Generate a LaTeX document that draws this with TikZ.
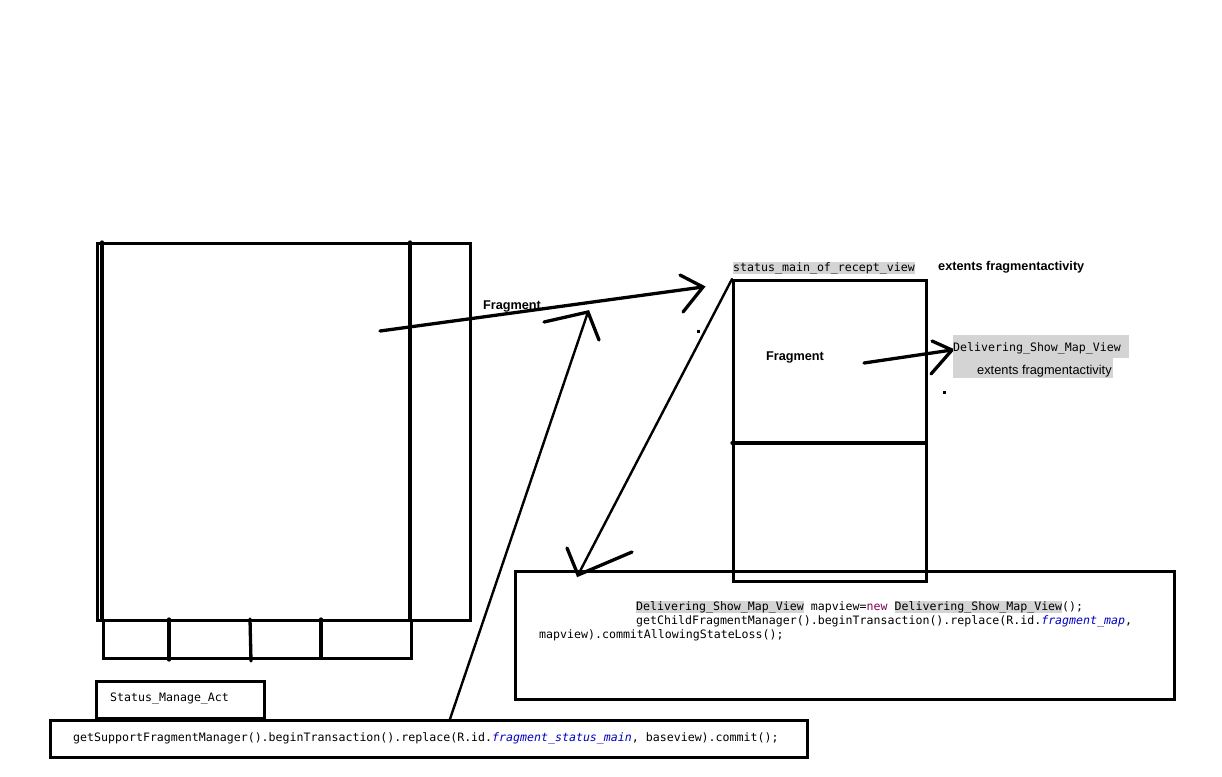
\documentclass[tikz,border=0pt]{standalone}
\usepackage{fontspec}
\setmainfont{Liberation Sans}
\newfontfamily\codefont{DejaVu Sans Mono}
\definecolor{hlgray}{HTML}{D4D4D4}
\definecolor{kwcol}{HTML}{7F0055}
\definecolor{fieldblue}{HTML}{0000C0}
\newcommand{\hlbox}[1]{{\setlength{\fboxsep}{0pt}\colorbox{hlgray}{\vphantom{Dg}#1}}}
\begin{document}
\begin{tikzpicture}[x=1pt,y=-1pt,
  frame/.style={draw, line width=2.6pt, inner sep=0pt, anchor=north west},
  penline/.style={draw, line width=3.3pt, line cap=round},
  thinpen/.style={draw, line width=2.4pt, line cap=round},
  code/.style={font=\codefont\fontsize{11.6}{14}\selectfont, inner sep=0pt, anchor=base west},
  boldlabel/.style={font=\bfseries\fontsize{12.7}{14}\selectfont, inner sep=0pt},
  plainlabel/.style={font=\fontsize{12.8}{14}\selectfont, inner sep=0pt, anchor=base west},
  speck/.style={fill=black, inner sep=0pt, minimum size=3pt}
]
\useasboundingbox (0,0) rectangle (1222,776);

% ---- left activity box ----
\node[frame, minimum width=373pt, minimum height=377pt] (act) at (96,242) {};
\node[frame, minimum width=308pt, minimum height=38pt] (tabs) at (102,619) {};
\coordinate (innertop) at (102,242);
\coordinate (innerbot) at (102,619);
\path[penline] (innertop) -- (innerbot);
\coordinate (divtop) at (410,242);
\coordinate (divbot) at (410,619);
\path[penline] (divtop) -- (divbot);
\coordinate (t1a) at (169,619); \coordinate (t1b) at (169,660);
\coordinate (t2a) at (250,619); \coordinate (t2b) at (251,661);
\coordinate (t3a) at (321,619); \coordinate (t3b) at (321,657);
\path[penline] (t1a) -- (t1b);
\path[penline] (t2a) -- (t2b);
\path[penline] (t3a) -- (t3b);

% ---- Status_Manage_Act ----
\node[frame, minimum width=168pt, minimum height=37pt] (smabox) at (95,680) {};
\node[code] (smatext) at (110,701) {Status\_Manage\_Act};

% ---- bottom code box ----
\node[frame, minimum width=757pt, minimum height=37pt] (codebot) at (49,719) {};
\node[code] (codebottext) at (73,741) {getSupportFragmentManager().beginTransaction().replace(R.id.\textcolor{fieldblue}{\itshape fragment\_status\_main}, baseview).commit();};

% ---- arrow from bottom code up ----
\coordinate (upfoot) at (450,719);
\coordinate (uptip) at (588,312);
\coordinate (uph1) at (544,322);
\coordinate (uph2) at (599,340);
\path[thinpen] (upfoot) -- (uptip);
\path[penline] (uph1) -- (uptip) -- (uph2);

% ---- long Fragment arrow ----
\coordinate (fragstart) at (380,331);
\coordinate (fragtip) at (703,287);
\coordinate (fragh1) at (680,275);
\coordinate (fragh2) at (683,312);
\path[penline] (fragstart) -- (fragtip);
\path[penline] (fragh1) -- (fragtip) -- (fragh2);
\node[boldlabel] (fraglabel) at (512,306) {Fragment};

% ---- status_main_of_recept_view box ----
\node[frame, minimum width=193pt, minimum height=301pt] (statbox) at (732,279) {};
\coordinate (sdivl) at (732,443);
\coordinate (sdivr) at (925,443);
\path[penline] (sdivl) -- (sdivr);
\node[code] (stattitle) at (733,271) {\hlbox{status\_main\_of\_recept\_view}};
\node[boldlabel, anchor=base west] (ext1) at (938,270) {extents fragmentactivity};

% ---- inner Fragment arrow ----
\node[boldlabel] (frag2) at (795,357) {Fragment};
\coordinate (f2start) at (864,363);
\coordinate (f2tip) at (952,350);
\coordinate (f2h1) at (932,341);
\coordinate (f2h2) at (931,374);
\path[penline] (f2start) -- (f2tip);
\path[penline] (f2h1) -- (f2tip) -- (f2h2);

% ---- Delivering_Show_Map_View label ----
\fill[hlgray] (953,335) rectangle (1129,358);
\fill[hlgray] (953,358) rectangle (1113,378);
\node[code] (dsmv) at (953,351) {Delivering\_Show\_Map\_View};
\node[plainlabel] (ext2) at (977,374) {extents fragmentactivity};

% ---- arrow from status box to code box ----
\coordinate (dstart) at (732,279);
\coordinate (dtip) at (578,575);
\coordinate (dh1) at (567,548);
\coordinate (dh2) at (632,552);
\path[thinpen] (dstart) -- (dtip);
\path[penline] (dh1) -- (dtip) -- (dh2);

% ---- code box right ----
\node[frame, minimum width=659pt, minimum height=128pt] (coderight) at (514,570) {};
\node[code] (cl1) at (636,610) {\hlbox{Delivering\_Show\_Map\_View} mapview=\textcolor{kwcol}{new} \hlbox{Delivering\_Show\_Map\_View}();};
\node[code] (cl2) at (636,624) {getChildFragmentManager().beginTransaction().replace(R.id.\textcolor{fieldblue}{\itshape fragment\_map},};
\node[code] (cl3) at (539,638) {mapview).commitAllowingStateLoss();};

% ---- stray dots ----
\node[speck] (dot1) at (698,331) {};
\node[speck] (dot2) at (944,392) {};
\node[speck, minimum size=2pt] (dot3) at (516,617) {};
\end{tikzpicture}
\end{document}
